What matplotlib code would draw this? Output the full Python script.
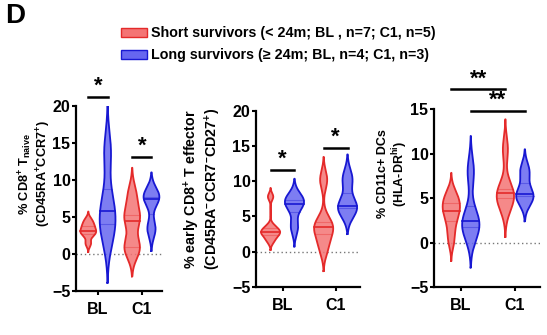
import numpy as np
import matplotlib
matplotlib.use('Agg')
import matplotlib.pyplot as plt
from matplotlib.patches import Rectangle

plt.rcParams['font.family'] = ['Liberation Sans', 'DejaVu Sans']
plt.rcParams['font.weight'] = 'bold'
plt.rcParams['mathtext.fontset'] = 'custom'
plt.rcParams['mathtext.rm'] = 'Liberation Sans:bold'
plt.rcParams['mathtext.it'] = 'Liberation Sans:bold'
plt.rcParams['mathtext.bf'] = 'Liberation Sans:bold'
plt.rcParams['mathtext.sf'] = 'Liberation Sans:bold'

# ---------------- data ----------------
categories = ['BL', 'C1']
legend_labels = ['Short survivors (< 24m; BL , n=7; C1, n=5)',
                 'Long survivors (\u2265 24m; BL, n=4; C1, n=3)']

naive_short_bl = [1.4, 2.5, 2.9, 3.1, 3.6, 4.0, 4.6]
naive_short_c1 = [0.6, 1.0, 4.5, 5.3, 8.0]
naive_long_bl = [2.6, 4.6, 7.0, 13.8]
naive_long_c1 = [3.4, 7.4, 8.0]

early_short_bl = [1.5, 2.2, 2.6, 2.8, 3.1, 3.6, 7.8]
early_short_c1 = [0.5, 2.5, 3.5, 4.2, 10.2]
early_long_bl = [3.5, 6.4, 7.2, 7.6]
early_long_c1 = [6.0, 6.5, 10.3]

dc_short_bl = [0.2, 1.8, 3.0, 3.6, 4.2, 4.8, 5.6]
dc_short_c1 = [4.0, 5.0, 5.6, 6.0, 10.5]
dc_long_bl = [1.2, 2.0, 2.8, 8.0]
dc_long_c1 = [4.9, 5.5, 8.0]

y_labels = [
    '% CD8$^{+}$ T$_{\\rm naive}$\n(CD45RA$^{+}$CCR7$^{+}$)',
    '% early CD8$^{+}$ T effector\n(CD45RA$^{-}$CCR7$^{-}$CD27$^{+}$)',
    '% CD11c+ DCs\n(HLA-DR$^{\\rm hi}$)',
]

# ---------------- style / layout ----------------
W, H = 547, 335
red_fill, red_edge = '#F47474', '#E42A2A'
blue_fill, blue_edge = '#6666F0', '#1818D2'

panels = [
    dict(short=[naive_short_bl, naive_short_c1], long=[naive_long_bl, naive_long_c1],
         bw_s=[0.45, 1.45], bw_l=[2.6, 1.2], ylim=(-5, 20), yticks=[-5, 0, 5, 10, 15, 20],
         box=(76, 105.7, 162, 291), off=0.22, hw=0.18,
         sig=[('pair', 0, 21.2, '*'), ('pair', 1, 13.1, '*')],
         label_xy=(35, 174), label_fs=9.2),
    dict(short=[early_short_bl, early_short_c1], long=[early_long_bl, early_long_c1],
         bw_s=[0.5, 1.3], bw_l=[1.1, 1.4], ylim=(-5, 20), yticks=[-5, 0, 5, 10, 15, 20],
         box=(256, 110.7, 360, 287), off=0.225, hw=0.18,
         sig=[('pair', 0, 11.6, '*'), ('pair', 1, 14.7, '*')],
         label_xy=(202, 189), label_fs=10.3),
    dict(short=[dc_short_bl, dc_short_c1], long=[dc_long_bl, dc_long_c1],
         bw_s=[0.9, 1.35], bw_l=[1.6, 1.0], ylim=(-5, 15), yticks=[-5, 0, 5, 10, 15],
         box=(434, 109.3, 540, 287), off=0.18, hw=0.16,
         sig=[('short', None, 17.25, '**'), ('long', None, 14.85, '**')],
         label_xy=(393.5, 174), label_fs=9.0),
]

fig = plt.figure(figsize=(W / 100, H / 100), dpi=100)


def kde_violin(ax, data, pos, bw, hw, fc, ec):
    d = np.asarray(data, float)
    grid = np.linspace(d.min() - 2.5 * bw, d.max() + 2.5 * bw, 400)
    dens = np.exp(-0.5 * ((grid[:, None] - d[None, :]) / bw) ** 2).sum(axis=1)
    dens = dens / dens.max() * hw
    ax.fill_betweenx(grid, pos - dens, pos + dens, facecolor=fc, edgecolor='none', alpha=0.85, zorder=2)
    ax.plot(np.concatenate([pos - dens, (pos + dens)[::-1], [pos - dens[0]]]),
            np.concatenate([grid, grid[::-1], [grid[0]]]), color=ec, lw=1.3, zorder=3)
    q1, med, q3 = np.percentile(d, [25, 50, 75])
    for q, lw, a in [(med, 1.2, 1.0), (q1, 0.8, 0.35), (q3, 0.8, 0.35)]:
        w = np.interp(q, grid, dens)
        ax.plot([pos - w, pos + w], [q, q], color=ec, lw=lw, alpha=a, zorder=3)


for p, lab in zip(panels, y_labels):
    x0, yt, x1, yb = p['box']
    ax = fig.add_axes([x0 / W, (H - yb) / H, (x1 - x0) / W, (yb - yt) / H])
    ax.set_xlim(-0.5, 1.46)
    ax.set_ylim(*p['ylim'])
    off = p['off']
    for i in range(2):
        kde_violin(ax, p['short'][i], i - off, p['bw_s'][i], p['hw'], red_fill, red_edge)
        kde_violin(ax, p['long'][i], i + off, p['bw_l'][i], p['hw'], blue_fill, blue_edge)
    ax.axhline(0, color='#777777', lw=1.0, ls=(0, (1, 2)), zorder=1)
    for s in ['top', 'right']:
        ax.spines[s].set_visible(False)
    for s in ['left', 'bottom']:
        ax.spines[s].set_linewidth(1.6)
    ax.set_yticks(p['yticks'])
    ax.set_xticks([0, 1])
    ax.set_xticklabels(categories)
    ax.tick_params(axis='both', width=1.5, length=3, labelsize=11.5, pad=1)
    ax.tick_params(axis='x', pad=5)
    for t in ax.get_xticklabels() + ax.get_yticklabels():
        t.set_fontweight('bold')
    # significance bars
    for kind, grp, yv, star in p['sig']:
        if kind == 'pair':
            xa, xb = grp - off, grp + off
        elif kind == 'short':
            xa, xb = -off, 1 - off
        else:
            xa, xb = off, 1 + off
        ax.plot([xa, xb], [yv, yv], color='black', lw=1.8, clip_on=False, zorder=4)
        ax.text((xa + xb) / 2, yv, star, ha='center', va='bottom', fontsize=16,
                fontweight='bold', clip_on=False)
    # y label
    lx, ly = p['label_xy']
    fig.text(lx / W, 1 - ly / H, lab, ha='center', va='center', rotation=90,
             fontsize=p['label_fs'], fontweight='bold', multialignment='center',
             linespacing=1.05)

# legend
for k, (fc, ec, lab) in enumerate([(red_fill, red_edge, legend_labels[0]),
                                   (blue_fill, blue_edge, legend_labels[1])]):
    yc = 32.5 + 22 * k
    fig.patches.append(Rectangle((121 / W, 1 - (yc + 4.5) / H), 26 / W, 9 / H,
                                 transform=fig.transFigure, facecolor=fc, edgecolor=ec, lw=1))
    fig.text(151 / W, 1 - yc / H, lab, ha='left', va='center', fontsize=10.3, fontweight='bold')

fig.text(5 / W, 1 - 16 / H, 'D', ha='left', va='center', fontsize=20, fontweight='bold')

fig.savefig('out.png', dpi=100, facecolor='white')
